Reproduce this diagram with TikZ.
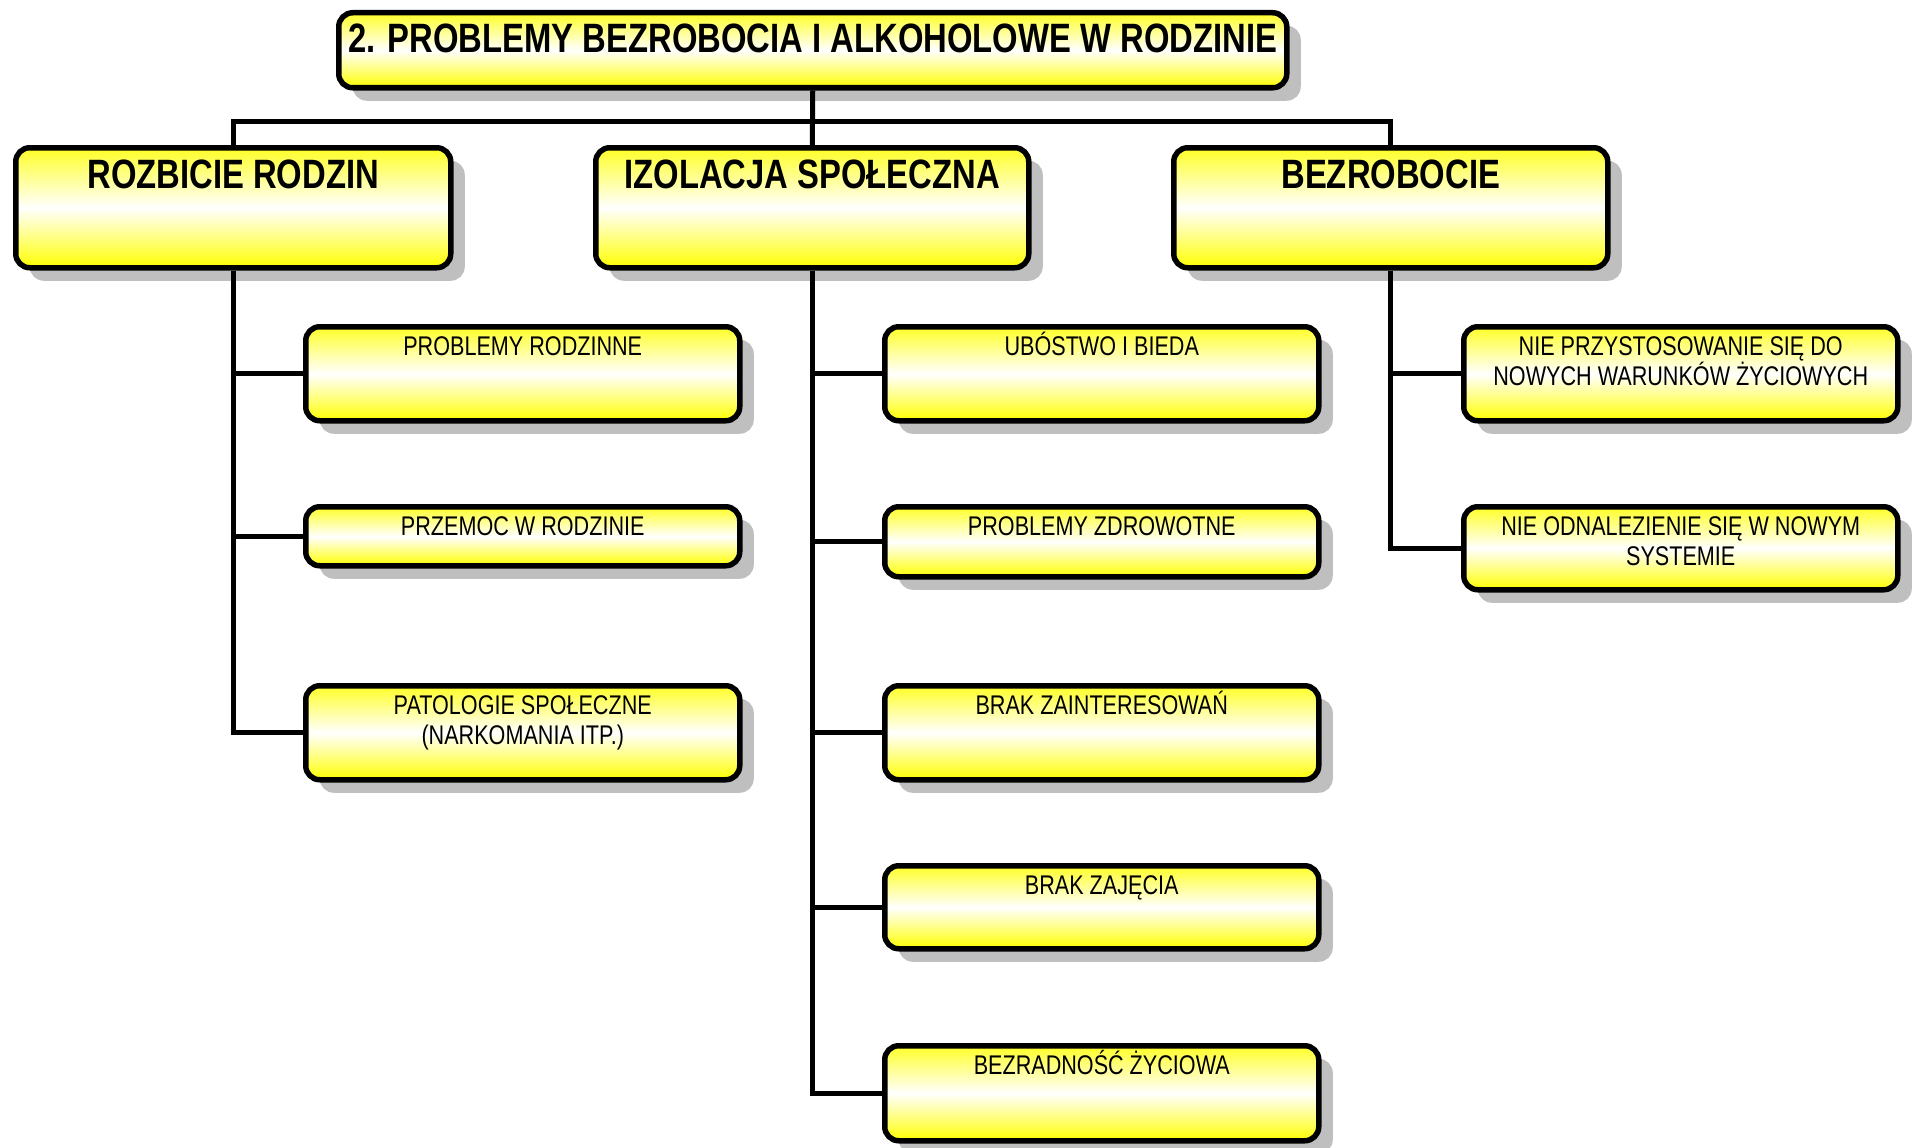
\documentclass[tikz,border=0pt]{standalone}
\usepackage{fontspec}
\setmainfont{Liberation Sans}[FakeStretch=0.8]
\usepackage{tikz}
\usetikzlibrary{positioning,shadows}
\definecolor{zolty}{RGB}{255,255,0}

\begin{document}
\begin{tikzpicture}[x=1pt, y=-1pt,
  kafel/.style={draw=black, line width=5.5pt, rounded corners=14pt, anchor=north west,
    top color=zolty!85!white, bottom color=zolty, middle color=white, inner sep=0pt,
    drop shadow={shadow xshift=14pt, shadow yshift=-13pt, fill=black!25, opacity=1}},
  glowny/.style={kafel, minimum height=120pt},
  lisc/.style={kafel, minimum width=434pt},
  duzy/.style={font=\fontsize{41}{45}\selectfont\bfseries, inner sep=0pt, anchor=north},
  opis/.style={font=\fontsize{27}{30.5}\selectfont, align=center, inner sep=0pt, anchor=north},
  jeden/.style={opis, text height=19.7pt},
  polacz/.style={line width=5pt}]
  \useasboundingbox (0,0) rectangle (1912,1148);
  % naglowek
  \node[kafel, minimum width=948pt, minimum height=75pt] (tytul) at (336,10) {};
  \node[duzy, below=14pt of tytul.north] (ttytul) {2. PROBLEMY BEZROBOCIA I ALKOHOLOWE W RODZINIE};
  % trzy galezie
  \node[glowny, minimum width=435pt] (rozbicie) at (13,145) {};
  \node[glowny, minimum width=433pt] (izolacja) at (593,145) {};
  \node[glowny, minimum width=434pt] (bezrob) at (1171,145) {};
  \node[duzy, below=15pt of rozbicie.north] (trozbicie) {ROZBICIE RODZIN};
  \node[duzy, below=15pt of izolacja.north] (tizolacja) {IZOLACJA SPOŁECZNA};
  \node[duzy, below=15pt of bezrob.north] (tbezrob) {BEZROBOCIE};
  % rozbicie rodzin
  \node[lisc, minimum height=94pt] (r1) at (303,324) {};
  \node[lisc, minimum height=59pt] (r2) at (303,504) {};
  \node[lisc, minimum height=94pt] (r3) at (303,683) {};
  \node[jeden, below=12pt of r1.north] (tr1) {PROBLEMY RODZINNE};
  \node[jeden, below=12pt of r2.north] (tr2) {PRZEMOC W RODZINIE};
  \node[opis, below=12pt of r3.north] (tr3) {PATOLOGIE SPOŁECZNE\\(NARKOMANIA ITP.)};
  % izolacja spoleczna
  \node[lisc, minimum height=94pt] (i1) at (882,324) {};
  \node[lisc, minimum height=70pt] (i2) at (882,504) {};
  \node[lisc, minimum height=94pt] (i3) at (882,683) {};
  \node[lisc, minimum height=83pt] (i4) at (882,863) {};
  \node[lisc, minimum height=95pt] (i5) at (882,1043) {};
  \node[jeden, below=12pt of i1.north] (ti1) {UBÓSTWO I BIEDA};
  \node[jeden, below=12pt of i2.north] (ti2) {PROBLEMY ZDROWOTNE};
  \node[jeden, below=12pt of i3.north] (ti3) {BRAK ZAINTERESOWAŃ};
  \node[jeden, below=12pt of i4.north] (ti4) {BRAK ZAJĘCIA};
  \node[jeden, below=12pt of i5.north] (ti5) {BEZRADNOŚĆ ŻYCIOWA};
  % bezrobocie
  \node[lisc, minimum height=94pt] (b1) at (1461,324) {};
  \node[lisc, minimum height=83pt] (b2) at (1461,504) {};
  \node[opis, below=12pt of b1.north] (tb1) {NIE PRZYSTOSOWANIE SIĘ DO\\NOWYCH WARUNKÓW ŻYCIOWYCH};
  \node[opis, below=12pt of b2.north] (tb2) {NIE ODNALEZIENIE SIĘ W NOWYM\\SYSTEMIE};
  % linie
  \draw[polacz] (tytul.south) -- (izolacja.north);
  \draw[polacz] (rozbicie.north) -- ++(0,-24) -| (bezrob.north);
  \foreach \l in {r1,r2,r3} \draw[polacz] (rozbicie.south) |- (\l.west);
  \foreach \l in {i1,i2,i3,i4,i5} \draw[polacz] (izolacja.south) |- (\l.west);
  \foreach \l in {b1,b2} \draw[polacz] (bezrob.south) |- (\l.west);
\end{tikzpicture}
\end{document}
